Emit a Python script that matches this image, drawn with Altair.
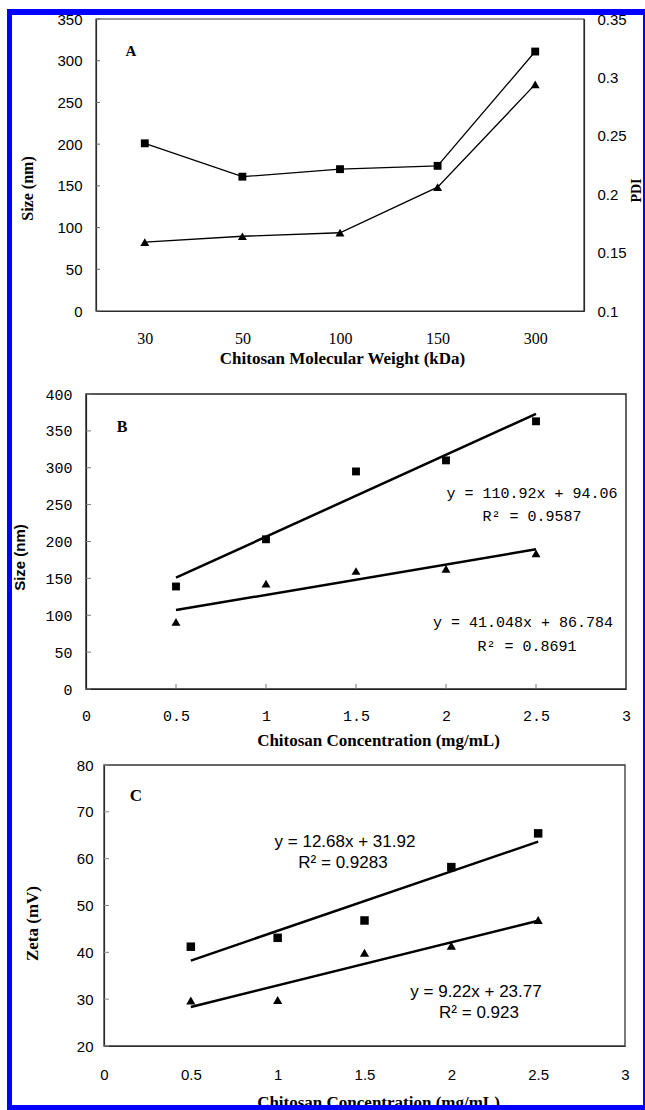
import altair as alt
import pandas as pd

# ---------------- data ----------------
mw_cats = ["30", "50", "100", "150", "300"]
a_size = [201, 161, 170, 174, 311]
a_pdi = [0.159, 0.164, 0.167, 0.206, 0.294]

conc = [0.5, 1.0, 1.5, 2.0, 2.5]
b_size_sq = [139, 203, 295, 310, 363]
b_size_tri = [91, 143, 160, 163, 184]

c_zeta_sq = [41.2, 43.1, 46.8, 58.2, 65.4]
c_zeta_tri = [29.7, 29.8, 39.9, 41.4, 46.9]

a_left_ticks = [0, 50, 100, 150, 200, 250, 300, 350]
a_right_ticks = [0.1, 0.15, 0.2, 0.25, 0.3, 0.35]
b_y_ticks = [0, 50, 100, 150, 200, 250, 300, 350, 400]
bc_x_ticks = [0, 0.5, 1, 1.5, 2, 2.5, 3]
b_inner_x_ticks = [0.5, 1, 1.5, 2, 2.5]
c_y_ticks = [20, 30, 40, 50, 60, 70, 80]

b_eq = ["y = 110.92x + 94.06", "R² = 0.9587", "y = 41.048x + 86.784", "R² = 0.8691"]
c_eq = ["y = 12.68x + 31.92", "R² = 0.9283", "y = 9.22x + 23.77", "R² = 0.923"]
letters = ["A", "B", "C"]

# ---------------- layout (pixels) ----------------
W, H = 645, 1110
AX0, AX1, AY0, AY1 = 96, 584, 19, 311
BX0, BX1, BY0, BY1 = 86, 626, 394, 689
CX0, CX1, CY0, CY1 = 104, 625, 765, 1046

SERIF = "Liberation Serif"
SANS = "Liberation Sans"
MONO = "Liberation Mono"

dummy = pd.DataFrame({"d": [0]})

sA_x = alt.Scale(type="point", domain=mw_cats, range=[AX0, AX1], padding=0.5)
sA_yl = alt.Scale(domain=[0, 350], range=[AY1, AY0], nice=False, zero=False)
sA_yr = alt.Scale(domain=[0.1, 0.35], range=[AY1, AY0], nice=False, zero=False)
sB_x = alt.Scale(domain=[0, 3], range=[BX0, BX1], nice=False, zero=False)
sB_y = alt.Scale(domain=[0, 400], range=[BY1, BY0], nice=False, zero=False)
sC_x = alt.Scale(domain=[0, 3], range=[CX0, CX1], nice=False, zero=False)
sC_y = alt.Scale(domain=[20, 80], range=[CY1, CY0], nice=False, zero=False)


def axis(**kw):
    base = dict(grid=False, ticks=False, labelFlush=False, labelOverlap=False,
                labelColor="black", titleColor="black", domainColor="#222",
                domainWidth=1.2, titleFontWeight="bold", titleAlign="center",
                titleBaseline="middle", labelAngle=0, labelExpr="'' + datum.value")
    base.update(kw)
    return alt.Axis(**base)


layers = []

# ---------------- Panel A ----------------
dA = pd.DataFrame({"mw": mw_cats, "size": a_size, "pdi": a_pdi})
axA_b = axis(orient="bottom", offset=AY1 - H, labelFont=SERIF, labelFontSize=16,
             labelPadding=19, title="Chitosan Molecular Weight (kDa)", titleFont=SERIF,
             titleFontSize=17, titleX=342, titleY=47)
axA_l = axis(orient="left", offset=-AX0, values=a_left_ticks, labelFont=SANS,
             labelFontSize=15, labelPadding=14, title="Size (nm)", titleFont=SERIF,
             titleFontSize=16, titleX=27 - AX0, titleY=188, titleAngle=270)
axA_r = axis(orient="right", offset=AX1 - W, values=a_right_ticks, labelFont=SANS,
             labelFontSize=15, labelPadding=13, title="PDI", titleFont=SERIF,
             titleFontSize=14, titleX=636 - AX1, titleY=190, titleAngle=270)

layers.append(alt.Chart(dummy).mark_rect(fillOpacity=0, stroke="#333", strokeWidth=1.2).encode(
    x=alt.value(AX0), x2=alt.value(AX1), y=alt.value(AY0), y2=alt.value(AY1)))
layers.append(alt.Chart(dA).mark_line(color="black", strokeWidth=1.3).encode(
    x=alt.X("mw:N", scale=sA_x, sort=mw_cats, axis=axA_b),
    y=alt.Y("size:Q", scale=sA_yl, axis=axA_l)))
layers.append(alt.Chart(dA).mark_point(shape="square", filled=True, size=62, color="black", opacity=1).encode(
    x=alt.X("mw:N", scale=sA_x, sort=mw_cats, axis=None),
    y=alt.Y("size:Q", scale=sA_yl, axis=None)))
layers.append(alt.Chart(dA).mark_line(color="black", strokeWidth=1.3).encode(
    x=alt.X("mw:N", scale=sA_x, sort=mw_cats, axis=None),
    y=alt.Y("pdi:Q", scale=sA_yr, axis=axA_r)))
layers.append(alt.Chart(dA).mark_point(shape="triangle-up", filled=True, size=80, color="black", opacity=1).encode(
    x=alt.X("mw:N", scale=sA_x, sort=mw_cats, axis=None),
    y=alt.Y("pdi:Q", scale=sA_yr, axis=None)))
layers.append(alt.Chart(pd.DataFrame({"v": a_left_ticks})).mark_rule(color="#666").encode(
    y=alt.Y("v:Q", scale=sA_yl, axis=None), x=alt.value(AX0), x2=alt.value(AX0 + 4)))
layers.append(alt.Chart(dummy).mark_text(text=letters[0], font=SERIF, fontSize=15, fontWeight="bold",
                                          align="center", baseline="middle", color="black").encode(
    x=alt.value(131), y=alt.value(51)))

# ---------------- Panel B ----------------
dB = pd.DataFrame({"conc": conc * 2, "size": b_size_sq + b_size_tri,
                   "series": ["sq"] * len(conc) + ["tri"] * len(conc)})
dBsq = dB[dB.series == "sq"]
dBtri = dB[dB.series == "tri"]
axB_b = axis(orient="bottom", offset=BY1 - H, values=bc_x_ticks, labelFont=MONO, labelFontSize=15,
             labelPadding=19, title="Chitosan Concentration (mg/mL)", titleFont=SERIF,
             titleFontSize=17, titleX=378, titleY=51)
axB_l = axis(orient="left", offset=-BX0, values=b_y_ticks, labelFont=MONO, labelFontSize=15,
             labelPadding=14, title="Size (nm)", titleFont=SANS, titleFontSize=15,
             titleX=19 - BX0, titleY=557, titleAngle=270)

layers.append(alt.Chart(dummy).mark_rect(fillOpacity=0, stroke="#222", strokeWidth=1.4).encode(
    x=alt.value(BX0), x2=alt.value(BX1), y=alt.value(BY0), y2=alt.value(BY1)))
layers.append(alt.Chart(dB).transform_regression("conc", "size", groupby=["series"]).mark_line(
    color="black", strokeWidth=2.5).encode(
    x=alt.X("conc:Q", scale=sB_x, axis=axB_b),
    y=alt.Y("size:Q", scale=sB_y, axis=axB_l),
    detail="series:N"))
layers.append(alt.Chart(dBsq).mark_point(shape="square", filled=True, size=62, color="black", opacity=1).encode(
    x=alt.X("conc:Q", scale=sB_x, axis=None), y=alt.Y("size:Q", scale=sB_y, axis=None)))
layers.append(alt.Chart(dBtri).mark_point(shape="triangle-up", filled=True, size=80, color="black", opacity=1).encode(
    x=alt.X("conc:Q", scale=sB_x, axis=None), y=alt.Y("size:Q", scale=sB_y, axis=None)))
layers.append(alt.Chart(pd.DataFrame({"v": b_y_ticks})).mark_rule(color="#777").encode(
    y=alt.Y("v:Q", scale=sB_y, axis=None), x=alt.value(BX0), x2=alt.value(BX0 + 5)))
layers.append(alt.Chart(pd.DataFrame({"v": b_inner_x_ticks})).mark_rule(color="#777").encode(
    x=alt.X("v:Q", scale=sB_x, axis=None), y=alt.value(BY1 - 5), y2=alt.value(BY1)))
layers.append(alt.Chart(dummy).mark_text(text=letters[1], font=SERIF, fontSize=16, fontWeight="bold",
                                          align="center", baseline="middle", color="black").encode(
    x=alt.value(122), y=alt.value(427)))
for txt, (px, py) in zip(b_eq, [(532, 493), (532, 516), (523, 622), (527, 646)]):
    layers.append(alt.Chart(dummy).mark_text(text=txt, font=MONO, fontSize=15, align="center",
                                              baseline="middle", color="black").encode(
        x=alt.value(px), y=alt.value(py)))

# ---------------- Panel C ----------------
dC = pd.DataFrame({"conc": conc * 2, "zeta": c_zeta_sq + c_zeta_tri,
                   "series": ["sq"] * len(conc) + ["tri"] * len(conc)})
dCsq = dC[dC.series == "sq"]
dCtri = dC[dC.series == "tri"]
axC_b = axis(orient="bottom", offset=CY1 - H, values=bc_x_ticks, labelFont=SANS, labelFontSize=15,
             labelPadding=21, title="Chitosan Concentration (mg/mL)", titleFont=SERIF,
             titleFontSize=17, titleX=378, titleY=56)
axC_l = axis(orient="left", offset=-CX0, values=c_y_ticks, labelFont=SANS, labelFontSize=15,
             labelPadding=11, title="Zeta (mV)", titleFont=SERIF, titleFontSize=17,
             titleX=32 - CX0, titleY=923, titleAngle=270)

layers.append(alt.Chart(dummy).mark_rect(fillOpacity=0, stroke="#333", strokeWidth=1.3).encode(
    x=alt.value(CX0), x2=alt.value(CX1), y=alt.value(CY0), y2=alt.value(CY1)))
layers.append(alt.Chart(dC).transform_regression("conc", "zeta", groupby=["series"]).mark_line(
    color="black", strokeWidth=2.5).encode(
    x=alt.X("conc:Q", scale=sC_x, axis=axC_b),
    y=alt.Y("zeta:Q", scale=sC_y, axis=axC_l),
    detail="series:N"))
layers.append(alt.Chart(dCsq).mark_point(shape="square", filled=True, size=72, color="black", opacity=1).encode(
    x=alt.X("conc:Q", scale=sC_x, axis=None), y=alt.Y("zeta:Q", scale=sC_y, axis=None)))
layers.append(alt.Chart(dCtri).mark_point(shape="triangle-up", filled=True, size=85, color="black", opacity=1).encode(
    x=alt.X("conc:Q", scale=sC_x, axis=None), y=alt.Y("zeta:Q", scale=sC_y, axis=None)))
layers.append(alt.Chart(pd.DataFrame({"v": c_y_ticks})).mark_rule(color="#888").encode(
    y=alt.Y("v:Q", scale=sC_y, axis=None), x=alt.value(CX0), x2=alt.value(CX0 + 5)))
layers.append(alt.Chart(dummy).mark_text(text=letters[2], font=SERIF, fontSize=17, fontWeight="bold",
                                          align="center", baseline="middle", color="black").encode(
    x=alt.value(136), y=alt.value(796)))
for txt, (px, py) in zip(c_eq, [(345, 842), (343, 863), (476, 992), (479, 1013)]):
    layers.append(alt.Chart(dummy).mark_text(text=txt, font=SANS, fontSize=17, align="center",
                                              baseline="middle", color="black").encode(
        x=alt.value(px), y=alt.value(py)))

# ---------------- blue border ----------------
BLUE = "#0000FF"
for (x1, y1, x2, y2, w) in [(9.5, 9, 9.5, H, 5), (7, 12, W, 12, 6), (7, 1107.5, W, 1107.5, 5),
                            (644, 9, 644, H, 2)]:
    layers.append(alt.Chart(dummy).mark_rule(color=BLUE, strokeWidth=w).encode(
        x=alt.value(x1), y=alt.value(y1), x2=alt.value(x2), y2=alt.value(y2)))

chart = alt.layer(*layers).resolve_scale(x="independent", y="independent").properties(
    width=W, height=H, padding=0, background="white",
    autosize=alt.AutoSizeParams(type="none"),
).configure_view(strokeWidth=0)

chart.save("out.html", embed_options={"renderer": "svg", "actions": False})
